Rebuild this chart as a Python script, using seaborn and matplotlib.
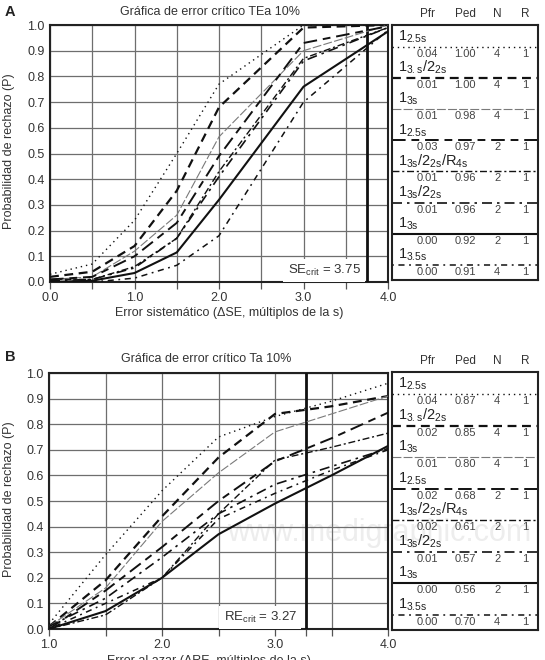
import numpy as np
import pandas as pd
import matplotlib
matplotlib.use("Agg")
import matplotlib.pyplot as plt
import seaborn as sns

# ---------------- data ----------------
series_keys = ["1_2.5s N4", "1_3s/2_2s N4", "1_3s N4", "1_2.5s N2",
               "1_3s/2_2s/R4s N2", "1_3s/2_2s N2", "1_3s N2", "1_3.5s N4"]
legend_labels = [r"$1_{2.5s}$", r"$1_{3.s}/2_{2s}$", r"$1_{3s}$", r"$1_{2.5s}$",
                 r"$1_{3s}/2_{2s}/R_{4s}$", r"$1_{3s}/2_{2s}$", r"$1_{3s}$", r"$1_{3.5s}$"]
n_values = [4, 4, 4, 2, 2, 2, 2, 4]
r_values = [1, 1, 1, 1, 1, 1, 1, 1]

# Panel A: systematic error
se_x = [0.0, 0.5, 1.0, 1.5, 2.0, 3.0, 4.0]
se_125_n4 = [0.03, 0.07, 0.24, 0.50, 0.77, 1.00, 1.00]
se_13s22s_n4 = [0.02, 0.04, 0.14, 0.355, 0.68, 0.99, 1.00]
se_13s_n4 = [0.01, 0.02, 0.12, 0.26, 0.565, 0.90, 1.00]
se_125_n2 = [0.01, 0.02, 0.10, 0.23, 0.49, 0.93, 0.995]
se_r4s_n2 = [0.01, 0.01, 0.06, 0.17, 0.43, 0.87, 0.99]
se_13s22s_n2 = [0.005, 0.01, 0.055, 0.17, 0.41, 0.86, 0.99]
se_13s_n2 = [0.00, 0.005, 0.035, 0.115, 0.32, 0.76, 0.975]
se_135_n4 = [0.00, 0.00, 0.015, 0.065, 0.18, 0.70, 0.98]
se_pfr = [0.04, 0.01, 0.01, 0.03, 0.01, 0.01, 0.00, 0.00]
se_ped = [1.00, 1.00, 0.98, 0.97, 0.96, 0.96, 0.92, 0.91]
se_crit = 3.75

# Panel B: random error
re_x = [1.0, 1.5, 2.0, 2.5, 3.0, 3.5, 4.0]
re_125_n4 = [0.02, 0.29, 0.54, 0.75, 0.83, 0.89, 0.96]
re_13s22s_n4 = [0.01, 0.19, 0.44, 0.67, 0.84, 0.87, 0.91]
re_13s_n4 = [0.01, 0.16, 0.42, 0.61, 0.77, 0.84, 0.91]
re_125_n2 = [0.00, 0.15, 0.32, 0.50, 0.655, 0.745, 0.845]
re_r4s_n2 = [0.00, 0.055, 0.20, 0.45, 0.66, 0.71, 0.765]
re_13s22s_n2 = [0.01, 0.12, 0.28, 0.45, 0.565, 0.635, 0.705]
re_13s_n2 = [0.00, 0.07, 0.20, 0.37, 0.49, 0.60, 0.715]
re_135_n4 = [0.00, 0.10, 0.20, 0.43, 0.53, 0.62, 0.70]
re_pfr = [0.04, 0.02, 0.01, 0.02, 0.02, 0.01, 0.00, 0.00]
re_ped = [0.87, 0.85, 0.80, 0.68, 0.61, 0.57, 0.56, 0.70]
re_crit = 3.27

se_series = [se_125_n4, se_13s22s_n4, se_13s_n4, se_125_n2, se_r4s_n2, se_13s22s_n2, se_13s_n2, se_135_n4]
re_series = [re_125_n4, re_13s22s_n4, re_13s_n4, re_125_n2, re_r4s_n2, re_13s22s_n2, re_13s_n2, re_135_n4]

# ---------------- styles ----------------
colors = {k: "#111111" for k in series_keys}
colors["1_3s N4"] = "#7a7a7a"
widths = {"1_2.5s N4": 1.0, "1_3s/2_2s N4": 1.6, "1_3s N4": 0.8, "1_2.5s N2": 1.4,
          "1_3s/2_2s/R4s N2": 1.0, "1_3s/2_2s N2": 1.2, "1_3s N2": 1.5, "1_3.5s N4": 1.1}
dashes = {"1_2.5s N4": (1, 2.8), "1_3s/2_2s N4": (4, 2.5), "1_3s N4": (8, 2),
          "1_2.5s N2": (7, 3, 4, 3), "1_3s/2_2s/R4s N2": (5, 2, 1.5, 2),
          "1_3s/2_2s N2": (6, 3, 1.5, 3), "1_3s N2": "", "1_3.5s N4": (1.2, 3, 4, 3)}

sns.set_theme(style="white")
plt.rcParams["font.family"] = ["Liberation Sans", "DejaVu Sans"]
plt.rcParams["mathtext.fontset"] = "custom"
plt.rcParams["mathtext.rm"] = "Liberation Sans"
plt.rcParams["mathtext.it"] = "Liberation Sans:italic"
plt.rcParams["mathtext.bf"] = "Liberation Sans:bold"
plt.rcParams["mathtext.default"] = "regular"

W, H = 545, 660
fig = plt.figure(figsize=(W / 100, H / 100), dpi=100)


def rect(left, top, right, bottom):
    return [left / W, 1 - bottom / H, (right - left) / W, (bottom - top) / H]


def long_frame(xs, series):
    rows = []
    for key, vals in zip(series_keys, series):
        for x, y in zip(xs, vals):
            rows.append({"x": x, "p": y, "regla": key})
    return pd.DataFrame(rows)


def draw_panel(ax, xs, series, xlim, minor, crit, crit_text):
    df = long_frame(xs, series)
    ax.set_facecolor("none")
    ax.set_xlim(*xlim)
    ax.set_ylim(0, 1)
    majors = np.arange(xlim[0], xlim[1] + 0.01, 1.0)
    ax.set_xticks(majors)
    ax.set_xticks(minor, minor=True)
    ax.set_yticks(np.round(np.arange(0, 1.01, 0.1), 1))
    ax.set_xticklabels([f"{v:.1f}" for v in majors])
    ax.set_yticklabels([f"{v:.1f}" for v in np.arange(0, 1.01, 0.1)])
    ax.grid(True, which="both", axis="x", color="#6e6e6e", lw=0.9)
    ax.grid(True, which="major", axis="y", color="#6e6e6e", lw=0.9)
    ax.set_axisbelow(True)
    ax.tick_params(axis="x", which="both", direction="out", length=5, width=0.9,
                   colors="#555555", labelcolor="#333333", labelsize=9, pad=2, bottom=True)
    ax.tick_params(axis="y", length=0, labelcolor="#333333", labelsize=9, pad=4)
    for s in ax.spines.values():
        s.set_color("#222222")
        s.set_linewidth(1.5)
    sns.lineplot(data=df, x="x", y="p", hue="regla", style="regla", size="regla",
                 palette=colors, dashes=dashes, sizes=widths, hue_order=series_keys,
                 style_order=series_keys, size_order=series_keys,
                 legend=False, ax=ax, zorder=3)
    ax.axvline(crit, color="#111111", lw=2.0, zorder=2.6)
    ax.text(crit - 0.075, 0.045, crit_text, ha="right", va="center", fontsize=9.5,
            color="#333333", zorder=2.7,
            bbox=dict(facecolor="white", edgecolor="none", pad=3))
    ax.set_xlabel("")
    ax.set_ylabel("")


def draw_legend(ax, pfr, ped):
    ax.set_facecolor("none")
    ax.set_xlim(0, 1)
    ax.set_ylim(8.2, 0)
    ax.set_xticks([])
    ax.set_yticks([])
    for s in ax.spines.values():
        s.set_color("#222222")
        s.set_linewidth(1.5)
    col_x = [0.24, 0.50, 0.72, 0.91]
    for j, head in enumerate(["Pfr", "Ped", "N", "R"]):
        ax.text(col_x[j], -0.35, head, ha="center", va="center", fontsize=8.5,
                color="#333333", clip_on=False)
    for i, key in enumerate(series_keys):
        ly = i + 0.71
        d = dashes[key]
        line, = ax.plot([0, 1], [ly, ly], color=colors[key], lw=widths[key])
        if d != "":
            line.set_dashes(d)
        ax.text(0.04, ly - 0.2, legend_labels[i], ha="left", va="baseline",
                fontsize=10.5, color="#222222")
        vals = [f"{pfr[i]:.2f}", f"{ped[i]:.2f}", f"{n_values[i]}", f"{r_values[i]}"]
        for j, v in enumerate(vals):
            ax.text(col_x[j], ly + 0.32, v, ha="center", va="baseline",
                    fontsize=8, color="#444444")


# watermark (behind everything)
fig.text(227 / W, 1 - 533 / H, "www.medigraphic.com", fontsize=22, color="#ededed",
         ha="left", va="center", zorder=-1)

axA = fig.add_axes(rect(50, 25, 388, 282))
draw_panel(axA, se_x, se_series, (0, 4), [0.5, 1.5, 2.5, 3.5], se_crit,
           r"SE$_{crit}$ = 3.75")
legA = fig.add_axes(rect(392, 25, 538, 280))
draw_legend(legA, se_pfr, se_ped)

axB = fig.add_axes(rect(49, 373, 388, 629))
draw_panel(axB, re_x, re_series, (1, 4), [1.5, 2.5, 3.27, 3.5], re_crit,
           r"RE$_{crit}$ = 3.27")
legB = fig.add_axes(rect(392, 372, 538, 630))
draw_legend(legB, re_pfr, re_ped)

# titles, labels, panel letters
fig.text(5 / W, 1 - 12 / H, "A", fontsize=10.5, fontweight="bold", va="center", color="#222222")
fig.text(5 / W, 1 - 357 / H, "B", fontsize=10.5, fontweight="bold", va="center", color="#222222")
fig.text(210 / W, 1 - 12 / H, "Gráfica de error crítico TEa 10%", fontsize=9,
         ha="center", va="center", color="#333333")
fig.text(206 / W, 1 - 359 / H, "Gráfica de error crítico Ta 10%", fontsize=9,
         ha="center", va="center", color="#333333")
fig.text(229 / W, 1 - 313 / H, "Error sistemático (ΔSE, múltiplos de la s)", fontsize=9,
         ha="center", va="center", color="#333333")
fig.text(209 / W, 1 - 655 / H, "Error al azar (ΔRE, múltiplos de la s)", fontsize=9,
         ha="center", va="top", color="#333333")
for yc in (151, 499):
    fig.text(9 / W, 1 - yc / H, "Probabilidad de rechazo (P)", fontsize=9, rotation=90,
             ha="center", va="center", color="#333333")

fig.savefig("out.png", dpi=100)
